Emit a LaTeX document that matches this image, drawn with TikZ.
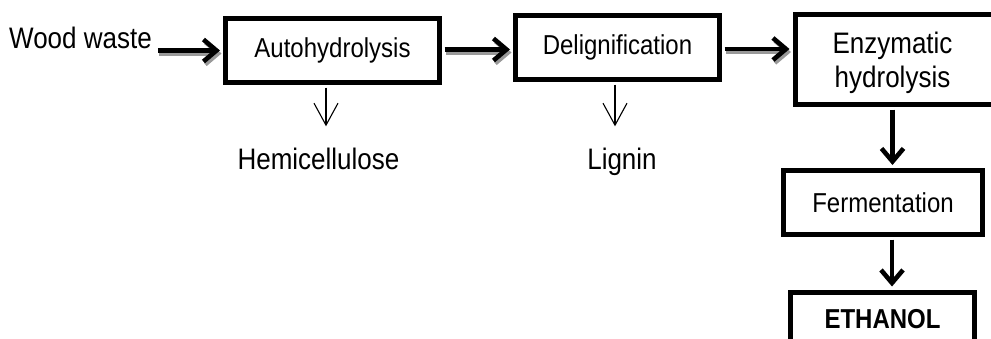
\documentclass[tikz,border=0pt]{standalone}
\usepackage{fontspec}
\usepackage{graphicx}
\setmainfont{Liberation Sans}
\usetikzlibrary{arrows.meta}
\newcommand{\vstretch}[1]{\scalebox{1}[1.14]{#1}}
\begin{document}
\begin{tikzpicture}[x=1pt,y=-1pt,
  procbox/.style={draw=black, line width=5pt, fill=white, inner sep=0pt, font=\fontsize{24}{29}\selectfont},
  lbl/.style={inner sep=3pt, font=\fontsize{26}{31}\selectfont},
  flow/.style={line width=4.6pt, -{Straight Barb[length=13pt,width=22pt]}},
  flowshadow/.style={line width=4pt, draw=black!40, -{Straight Barb[length=13pt,width=22pt]}, transform canvas={shift={(1.5,3)}}},
  side/.style={line width=1.1pt, -{Straight Barb[length=22pt,width=24pt]}}
]
\useasboundingbox (0,0) rectangle (991,338);
\fill[white] (0,0) rectangle (991,338);
\clip (0,0) rectangle (991,338);

\node[lbl, anchor=base west, inner sep=0pt] (wood) at (9,48) {\vstretch{Wood waste}};
\node[procbox, minimum width=214pt, minimum height=64pt] (auto) at (332.5,50.5) {\vstretch{Autohydrolysis}};
\node[procbox, minimum width=204pt, minimum height=64pt] (delig) at (617.5,47.5) {\vstretch{Delignification}};
\node[procbox, font=\fontsize{26}{30.5}\selectfont, minimum width=260pt, minimum height=90pt, anchor=west] (enz) at (792.5,59.5)
  {\raisebox{-4pt}[\height][\depth]{\vstretch{\begin{tabular}{@{}c@{}}Enzymatic\\hydrolysis\end{tabular}}}\rule{65pt}{0pt}};
\node[procbox, minimum width=199pt, minimum height=64pt] (ferm) at (883,202.5) {\vstretch{Fermentation}};
\node[procbox, font=\bfseries\fontsize{24}{29}\selectfont, minimum width=184pt, minimum height=54pt, anchor=north] (eth) at (882.5,289.5) {\vstretch{ETHANOL}};
\node[lbl, anchor=base] (hemi) at (318.5,169) {\vstretch{Hemicellulose}};
\node[lbl, anchor=base] (lig) at (622,169) {\vstretch{Lignin}};

% thick horizontal flow arrows with grey shadow
\draw[flowshadow, shorten <=6pt, shorten >=3pt] (wood.east |- auto.west) -- (auto.west);
\draw[flow, shorten <=6pt, shorten >=3pt] (wood.east |- auto.west) -- (auto.west);
\draw[flowshadow, shorten <=2.5pt, shorten >=3pt] ([yshift=1pt]auto.east) -- ([yshift=1pt]delig.west |- auto.east);
\draw[flow, shorten <=2.5pt, shorten >=3pt] ([yshift=1pt]auto.east) -- ([yshift=1pt]delig.west |- auto.east);
\draw[flowshadow, shorten <=2.5pt, shorten >=3pt] ([yshift=-1.5pt]delig.east) -- ([yshift=-1.5pt]delig.east -| enz.west);
\draw[flow, shorten <=2.5pt, shorten >=3pt] ([yshift=-1.5pt]delig.east) -- ([yshift=-1.5pt]delig.east -| enz.west);

% thick vertical arrows
\draw[flow, shorten <=2.5pt, shorten >=3pt] ([xshift=9.5pt]ferm.north |- enz.south) -- ([xshift=9.5pt]ferm.north);
\draw[flow, shorten <=2.5pt, shorten >=3pt] ([xshift=9pt]ferm.south) -- ([xshift=9pt]ferm.south |- eth.north);

% thin side-product arrows
\draw[side, shorten <=2.5pt, shorten >=18pt] ([xshift=-6.5pt]auto.south) -- ([xshift=-6.5pt]auto.south |- hemi.north);
\draw[side, shorten <=2.5pt, shorten >=18pt] ([xshift=-2.5pt]delig.south) -- ([xshift=-2.5pt]delig.south |- lig.north);
\end{tikzpicture}
\end{document}
